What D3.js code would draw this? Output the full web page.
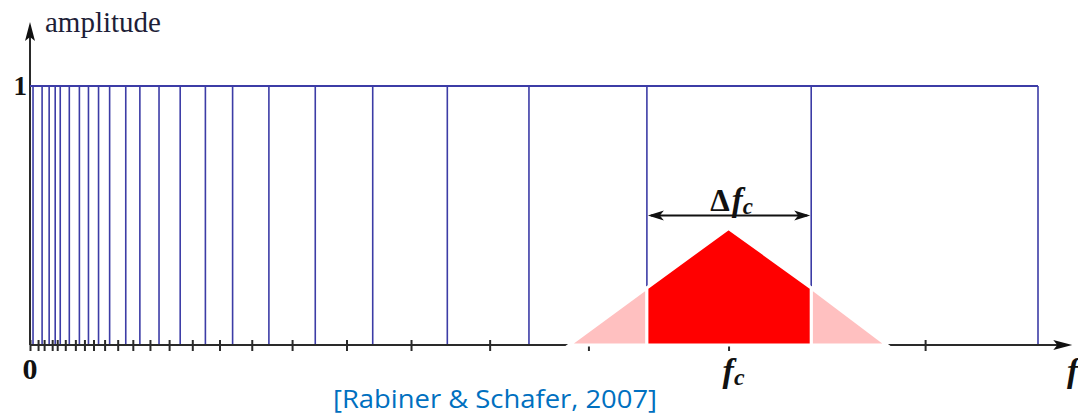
<!DOCTYPE html>
<html>
<head>
<meta charset="utf-8">
<script src="https://cdn.jsdelivr.net/npm/d3@7"></script>
<style>
  body { margin: 0; background: #fff; }
  svg { display: block; }
</style>
</head>
<body>
<svg id="chart" width="1078" height="414"></svg>
<script>
// band edges of the filter bank (percent of the frequency axis)
const bandEdges = [0.3, 1.2, 1.9, 2.5, 3.0, 3.9, 4.9, 5.8, 6.8, 7.9, 9.5, 10.9, 12.8, 14.9, 17.4, 20.1, 23.7, 28.3, 34.0, 41.4, 49.5, 61.2, 77.5, 100];
const bandAmp = 1;
// tick marks along the frequency axis
const tickValues = [0, 0.8, 1.4, 2.2, 2.7, 3.5, 4.5, 5.4, 6.3, 7.4, 8.7, 10.2, 11.9, 13.8, 16.1, 18.8, 22.0, 26.0, 31.4, 37.8, 45.6, 55.4, 69.3, 88.8];
// triangular filter around fc
const fc = 69.3;
const filterFreq = [53.5, 61.2, 69.3, 77.5, 85.0];
const filterAmp = [0, 0.22, 0.45, 0.22, 0];
const deltaBand = [61.2, 77.5];
const deltaAmp = 0.5;
const xAxisEnd = 103.4;
const yAxisEnd = 1.247;

const svg = d3.select("#chart");

const x = d3.scaleLinear().domain([0, 100]).range([30, 1038]);
const y = d3.scaleLinear().domain([0, 1]).range([345, 86]);

const blue = "#3c3ca6";
const axisColor = "#2a2a2a";

// y axis with arrow
svg.append("line")
  .attr("x1", x(0)).attr("x2", x(0))
  .attr("y1", y(0)).attr("y2", y(yAxisEnd) + 10)
  .attr("stroke", axisColor).attr("stroke-width", 2);
svg.append("path")
  .attr("d", `M${x(0)},${y(yAxisEnd)} L${x(0) + 5},${y(yAxisEnd) + 19} L${x(0)},${y(yAxisEnd) + 15} L${x(0) - 5},${y(yAxisEnd) + 19} Z`)
  .attr("fill", "#111");

// filter bank: vertical band edges + top line at amplitude 1
svg.selectAll(".band")
  .data(bandEdges)
  .enter()
  .append("line")
    .attr("class", "band")
    .attr("x1", d => x(d)).attr("x2", d => x(d))
    .attr("y1", y(0)).attr("y2", y(bandAmp))
    .attr("stroke", blue)
    .attr("stroke-width", 1.6);

svg.append("line")
  .attr("x1", x(0)).attr("x2", x(d3.max(bandEdges)))
  .attr("y1", y(bandAmp)).attr("y2", y(bandAmp))
  .attr("stroke", blue).attr("stroke-width", 1.8);

// x axis with arrow
svg.append("line")
  .attr("x1", x(0)).attr("x2", x(xAxisEnd) - 10)
  .attr("y1", y(0)).attr("y2", y(0))
  .attr("stroke", axisColor).attr("stroke-width", 2);
svg.append("path")
  .attr("d", `M${x(xAxisEnd)},${y(0)} L${x(xAxisEnd) - 19},${y(0) - 5} L${x(xAxisEnd) - 15},${y(0)} L${x(xAxisEnd) - 19},${y(0) + 5} Z`)
  .attr("fill", "#111");

svg.append("g")
  .attr("transform", `translate(0,${y(0)})`)
  .call(d3.axisBottom(x).tickValues(tickValues).tickSize(6).tickFormat(""))
  .call(g => g.select(".domain").remove())
  .call(g => g.selectAll(".tick line")
    .attr("y1", -5).attr("y2", 6)
    .attr("stroke", axisColor).attr("stroke-width", 2));

// triangular filter: pink skirts + red part inside the band
const area = d3.area()
  .x(d => x(d[0]))
  .y0(y(0))
  .y1(d => y(d[1]));
const pts = filterFreq.map((f, i) => [f, filterAmp[i]]);

[[pts[0], pts[1]], [pts[3], pts[4]]].forEach(seg => {
  svg.append("path")
    .attr("d", area(seg) )
    .attr("fill", "#ffc0c0")
    .attr("stroke", "#fff")
    .attr("stroke-width", 3);
});
svg.append("path")
  .attr("d", area(pts.slice(1, 4)))
  .attr("fill", "#ff0000")
  .attr("stroke", "#fff")
  .attr("stroke-width", 3);

// Δfc dimension arrow
const ay = y(deltaAmp);
svg.append("line")
  .attr("x1", x(deltaBand[0]) + 4).attr("x2", x(deltaBand[1]) - 4)
  .attr("y1", ay).attr("y2", ay)
  .attr("stroke", "#111").attr("stroke-width", 2);
svg.append("path")
  .attr("d", `M${x(deltaBand[0]) + 1},${ay} L${x(deltaBand[0]) + 17},${ay - 5} L${x(deltaBand[0]) + 13},${ay} L${x(deltaBand[0]) + 17},${ay + 5} Z`)
  .attr("fill", "#111");
svg.append("path")
  .attr("d", `M${x(deltaBand[1]) - 1},${ay} L${x(deltaBand[1]) - 17},${ay - 5} L${x(deltaBand[1]) - 13},${ay} L${x(deltaBand[1]) - 17},${ay + 5} Z`)
  .attr("fill", "#111");

const serif = "'Liberation Serif', 'DejaVu Serif', serif";

const dl = svg.append("text")
  .attr("x", x(fc) + 3)
  .attr("y", ay - 5)
  .attr("text-anchor", "middle")
  .attr("font-family", serif)
  .attr("font-weight", "bold")
  .attr("fill", "#111");
dl.append("tspan").attr("font-size", 31).text("Δ");
dl.append("tspan").attr("font-size", 33).attr("font-style", "italic").attr("dx", 2).text("f");
dl.append("tspan").attr("font-size", 23).attr("font-style", "italic").attr("dy", 3).text("c");

// labels
svg.append("text")
  .attr("x", 45).attr("y", 32)
  .attr("font-family", serif)
  .attr("font-size", 29)
  .attr("fill", "#1e1e38")
  .text("amplitude");

svg.append("text")
  .attr("x", 27).attr("y", y(1) + 9)
  .attr("text-anchor", "end")
  .attr("font-family", serif).attr("font-weight", "bold")
  .attr("font-size", 27).attr("fill", "#111")
  .text("1");

svg.append("text")
  .attr("x", x(0)).attr("y", 379)
  .attr("text-anchor", "middle")
  .attr("font-family", serif).attr("font-weight", "bold")
  .attr("font-size", 30).attr("fill", "#111")
  .text("0");

const fl = svg.append("text")
  .attr("x", x(fc) + 5).attr("y", 382)
  .attr("text-anchor", "middle")
  .attr("font-family", serif).attr("font-weight", "bold").attr("font-style", "italic")
  .attr("fill", "#111");
fl.append("tspan").attr("font-size", 34).text("f");
fl.append("tspan").attr("font-size", 24).attr("dy", 3).text("c");

svg.append("text")
  .attr("x", 1067).attr("y", 382)
  .attr("font-family", serif).attr("font-weight", "bold").attr("font-style", "italic")
  .attr("font-size", 34).attr("fill", "#111")
  .text("f");

svg.append("text")
  .attr("x", 495).attr("y", 408)
  .attr("text-anchor", "middle")
  .attr("font-family", "'Open Sans', 'Noto Sans', sans-serif")
  .attr("font-size", 25)
  .attr("fill", "#0070c0")
  .attr("textLength", 324)
  .attr("lengthAdjust", "spacingAndGlyphs")
  .text("[Rabiner & Schafer, 2007]");
</script>
</body>
</html>
